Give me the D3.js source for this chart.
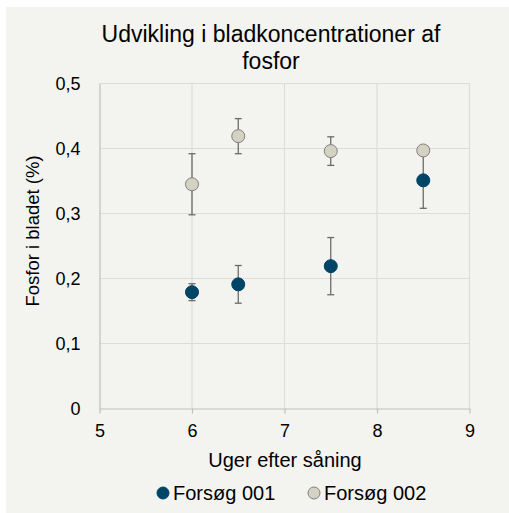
<!DOCTYPE html>
<html>
<head>
<meta charset="utf-8">
<script src="https://cdn.jsdelivr.net/npm/d3@7"></script>
<style>
  html, body { margin: 0; padding: 0; background: #ffffff; }
  svg text { font-family: "Liberation Sans", Arial, sans-serif; fill: #000; }
</style>
</head>
<body>
<svg id="chart" width="509" height="513"></svg>
<script>
// Weeks after sowing
const weeks001 = [6, 6.5, 7.5, 8.5];
const weeks002 = [6, 6.5, 7.5, 8.5];
// Leaf phosphorus (%) with standard deviation
const phos001 = [0.179, 0.191, 0.219, 0.351];
const err001  = [0.013, 0.029, 0.044, 0.043];
const phos002 = [0.345, 0.419, 0.396, 0.397];
const err002  = [0.047, 0.027, 0.022, 0.0];
const seriesNames = ["Forsøg 001", "Forsøg 002"];
const xTicks = [5, 6, 7, 8, 9];
const yTicks = [0, 0.1, 0.2, 0.3, 0.4, 0.5];

const svg = d3.select("#chart");
const W = 509, H = 513;

svg.append("rect").attr("x", 6).attr("y", 7).attr("width", W - 6).attr("height", H - 7)
  .attr("fill", "#f3f3ef");

const x = d3.scaleLinear().domain([5, 9]).range([99.5, 469.5]);
const y = d3.scaleLinear().domain([0, 0.5]).range([408.5, 83.5]);

// gridlines
const grid = svg.append("g");
grid.selectAll("line.v").data(xTicks.slice(1)).join("line")
  .attr("x1", d => x(d)).attr("x2", d => x(d)).attr("y1", y(0)).attr("y2", y(0.5))
  .attr("stroke", "#dcdcdc").attr("stroke-width", 1.2);
grid.selectAll("line.h").data(yTicks.slice(1)).join("line")
  .attr("x1", x(5)).attr("x2", x(9)).attr("y1", d => y(d)).attr("y2", d => y(d))
  .attr("stroke", "#dcdcdc").attr("stroke-width", 1.2);

const fmt = d => d === 0 ? "0" : d3.format(".1f")(d).replace(".", ",");
const tickFont = "18px";

// y axis
const yAxis = svg.append("g").attr("transform", `translate(${x(5)},0)`)
  .call(d3.axisLeft(y).tickValues(yTicks).tickSize(0).tickPadding(19).tickFormat(fmt));
yAxis.select(".domain").attr("stroke", "#bfbfbf").attr("stroke-width", 1.2);
yAxis.selectAll("text").attr("font-size", tickFont).attr("fill", "#000")
  .attr("font-family", "Liberation Sans, Arial, sans-serif");

// x axis
const xAxis = svg.append("g").attr("transform", `translate(0,${y(0)})`)
  .call(d3.axisBottom(x).tickValues(xTicks).tickSize(5).tickSizeOuter(0).tickPadding(11).tickFormat(d3.format("d")));
xAxis.select(".domain").attr("stroke", "#bfbfbf").attr("stroke-width", 1.2);
xAxis.selectAll(".tick line").attr("stroke", "#bfbfbf").attr("stroke-width", 1.2);
xAxis.selectAll("text").attr("font-size", tickFont).attr("fill", "#000")
  .attr("font-family", "Liberation Sans, Arial, sans-serif");

// error bars and markers
function drawSeries(xs, ys, es, fill, stroke) {
  const g = svg.append("g");
  const data = xs.map((d, i) => ({ x: d, y: ys[i], e: es[i] }));
  const eb = g.selectAll("g.eb").data(data.filter(d => d.e > 0)).join("g");
  eb.append("line").attr("x1", d => x(d.x)).attr("x2", d => x(d.x))
    .attr("y1", d => y(d.y - d.e)).attr("y2", d => y(d.y + d.e))
    .attr("stroke", "#6b6b6b").attr("stroke-width", 1.3);
  [-1, 1].forEach(s => {
    eb.append("line").attr("x1", d => x(d.x) - 3.5).attr("x2", d => x(d.x) + 3.5)
      .attr("y1", d => y(d.y + s * d.e)).attr("y2", d => y(d.y + s * d.e))
      .attr("stroke", "#6b6b6b").attr("stroke-width", 1.3);
  });
  return { g, data, fill, stroke };
}
const s1 = drawSeries(weeks001, phos001, err001, "#004466", "#004466");
const s2 = drawSeries(weeks002, phos002, err002, "#d4d2c2", "#7f7f7f");
[s1, s2].forEach(s => {
  s.g.selectAll("circle").data(s.data).join("circle")
    .attr("cx", d => x(d.x)).attr("cy", d => y(d.y)).attr("r", 6.5)
    .attr("fill", s.fill).attr("stroke", s.stroke).attr("stroke-width", 1);
});

// title
const title = svg.append("text").attr("text-anchor", "middle").attr("font-size", "23px");
title.append("tspan").attr("x", 271).attr("y", 42).text("Udvikling i bladkoncentrationer af");
title.append("tspan").attr("x", 271).attr("y", 69).text("fosfor");

// axis titles
svg.append("text").attr("x", 285).attr("y", 467).attr("text-anchor", "middle")
  .attr("font-size", "20px").text("Uger efter såning");
svg.append("text").attr("transform", "translate(39,231) rotate(-90)").attr("text-anchor", "middle")
  .attr("font-size", "18.5px").text("Fosfor i bladet (%)");

// legend
const legend = svg.append("g");
const legendItems = [
  { name: seriesNames[0], fill: "#004466", stroke: "#004466", cx: 163, tx: 173 },
  { name: seriesNames[1], fill: "#d4d2c2", stroke: "#7f7f7f", cx: 314, tx: 324 }
];
legendItems.forEach(it => {
  legend.append("circle").attr("cx", it.cx).attr("cy", 493).attr("r", 6)
    .attr("fill", it.fill).attr("stroke", it.stroke).attr("stroke-width", 1);
  legend.append("text").attr("x", it.tx).attr("y", 500).attr("font-size", "20px").text(it.name);
});
</script>
</body>
</html>
